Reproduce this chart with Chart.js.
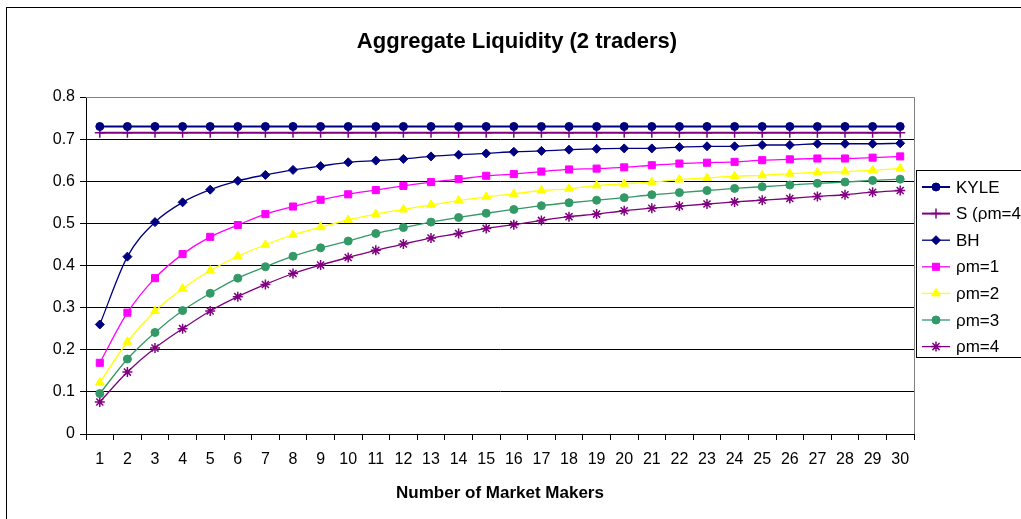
<!DOCTYPE html>
<html>
<head>
<meta charset="utf-8">
<title>Aggregate Liquidity (2 traders)</title>
<script src="https://cdn.jsdelivr.net/npm/chart.js@4.4.1/dist/chart.umd.min.js"></script>
<style>
  html, body { margin: 0; padding: 0; background: #fff; }
  #wrap { position: relative; width: 1021px; height: 519px; }
</style>
</head>
<body>
<div id="wrap"><canvas id="chart" width="1021" height="519"></canvas></div>
<script>
// Number of market makers (x categories)
const marketMakers = ['1','2','3','4','5','6','7','8','9','10','11','12','13','14','15',
                      '16','17','18','19','20','21','22','23','24','25','26','27','28','29','30'];

const chartTitle = 'Aggregate Liquidity (2 traders)';
const xAxisTitle = 'Number of Market Makers';
const yTicks = [0, 0.1, 0.2, 0.3, 0.4, 0.5, 0.6, 0.7, 0.8];

const seriesNames = ['KYLE', 'S (\u03c1m=4)', 'BH', '\u03c1m=1', '\u03c1m=2', '\u03c1m=3', '\u03c1m=4'];

const kyle = [0.730,0.730,0.730,0.730,0.730,0.730,0.730,0.730,0.730,0.730,
              0.730,0.730,0.730,0.730,0.730,0.730,0.730,0.730,0.730,0.730,
              0.730,0.730,0.730,0.730,0.730,0.730,0.730,0.730,0.730,0.730];
const sRho4 = [0.715,0.715,0.715,0.715,0.715,0.715,0.715,0.715,0.715,0.715,
               0.715,0.715,0.715,0.715,0.715,0.715,0.715,0.715,0.715,0.715,
               0.715,0.715,0.715,0.715,0.715,0.715,0.715,0.715,0.715,0.715];
const bh = [0.260,0.421,0.503,0.550,0.580,0.601,0.615,0.627,0.636,0.645,
            0.649,0.653,0.659,0.663,0.666,0.670,0.672,0.675,0.677,0.678,
            0.678,0.681,0.683,0.683,0.686,0.686,0.689,0.689,0.689,0.690];
const rho1 = [0.169,0.288,0.370,0.427,0.468,0.496,0.522,0.540,0.556,0.569,
              0.579,0.589,0.598,0.605,0.613,0.617,0.623,0.628,0.630,0.633,
              0.638,0.642,0.644,0.646,0.650,0.652,0.654,0.654,0.656,0.659];
const rho2 = [0.122,0.219,0.292,0.345,0.388,0.422,0.449,0.473,0.491,0.508,
              0.522,0.533,0.544,0.554,0.563,0.570,0.578,0.582,0.590,0.594,
              0.598,0.604,0.608,0.612,0.614,0.618,0.621,0.623,0.626,0.630];
const rho3 = [0.096,0.178,0.241,0.293,0.334,0.370,0.397,0.422,0.442,0.458,
              0.476,0.490,0.503,0.514,0.524,0.533,0.542,0.549,0.555,0.561,
              0.568,0.573,0.578,0.583,0.587,0.591,0.595,0.598,0.602,0.605];
const rho4 = [0.076,0.147,0.204,0.250,0.292,0.326,0.355,0.381,0.401,0.419,
              0.436,0.451,0.465,0.476,0.488,0.497,0.507,0.516,0.522,0.530,
              0.536,0.541,0.546,0.551,0.555,0.559,0.564,0.568,0.574,0.578];

const FONT = '"Liberation Sans", Arial, Helvetica, sans-serif';

function series(label, data, color, pointStyle, radius, width, tension) {
  return {
    label, data,
    borderColor: color,
    backgroundColor: color,
    pointBackgroundColor: color,
    pointBorderColor: color,
    pointStyle,
    pointRadius: radius,
    pointHoverRadius: radius,
    pointBorderWidth: pointStyle === 'cross' || pointStyle === 'star' ? 1.5 : 1,
    borderWidth: width,
    tension: tension,
    cubicInterpolationMode: 'monotone',
    fill: false
  };
}

const datasets = [
  series(seriesNames[0], kyle,  '#000080', 'circle',   4,   2,   0),
  series(seriesNames[1], sRho4, '#800080', 'cross',    5,   2,   0),
  series(seriesNames[2], bh,    '#000080', 'rectRot',  4.5, 1.3, 0.4),
  series(seriesNames[3], rho1,  '#FF00FF', 'rect',     5,   1.3, 0.4),
  series(seriesNames[4], rho2,  '#FFFF00', 'triangle', 5,   1.3, 0.4),
  series(seriesNames[5], rho3,  '#339966', 'circle',   4,   1.3, 0.4),
  series(seriesNames[6], rho4,  '#800080', 'star',     5,   1.3, 0.4)
];

// Frame, title, plot border and boxed legend
const decorations = {
  id: 'decorations',
  beforeDraw(chart) {
    const ctx = chart.ctx;
    ctx.save();
    ctx.fillStyle = '#fff';
    ctx.fillRect(0, 0, chart.width, chart.height);
    ctx.restore();
  },
  afterDraw(chart) {
    const ctx = chart.ctx;
    const area = chart.chartArea;
    ctx.save();

    // outer frame of the chart object
    ctx.strokeStyle = '#000';
    ctx.lineWidth = 1;
    ctx.strokeRect(6.5, 7.5, chart.width + 20, chart.height + 20);

    // plot area border (top and right)
    ctx.strokeStyle = '#808080';
    ctx.beginPath();
    ctx.moveTo(area.left, area.top + 0.5);
    ctx.lineTo(area.right + 0.5, area.top + 0.5);
    ctx.lineTo(area.right + 0.5, area.bottom);
    ctx.stroke();

    // title
    ctx.fillStyle = '#000';
    ctx.font = 'bold 22px ' + FONT;
    ctx.textAlign = 'center';
    ctx.textBaseline = 'alphabetic';
    ctx.fillText(chartTitle, 517, 48);

    // legend
    const lx = 916, ly = 170, lh = 187;
    ctx.fillStyle = '#fff';
    ctx.fillRect(lx, ly, chart.width - lx + 10, lh);
    ctx.strokeStyle = '#000';
    ctx.lineWidth = 1;
    ctx.strokeRect(lx + 0.5, ly + 0.5, chart.width - lx + 10, lh);

    ctx.font = '17px ' + FONT;
    ctx.textAlign = 'left';
    ctx.textBaseline = 'middle';
    chart.data.datasets.forEach((ds, i) => {
      const y = 187 + i * 26.6;
      ctx.strokeStyle = ds.borderColor;
      ctx.lineWidth = Math.max(1.3, ds.borderWidth);
      ctx.beginPath();
      ctx.moveTo(922, y);
      ctx.lineTo(950, y);
      ctx.stroke();
      if (Chart.helpers && Chart.helpers.drawPoint) {
        ctx.fillStyle = ds.pointBackgroundColor;
        ctx.strokeStyle = ds.pointBorderColor;
        ctx.lineWidth = ds.pointBorderWidth;
        Chart.helpers.drawPoint(ctx, {
          pointStyle: ds.pointStyle,
          radius: ds.pointRadius,
          rotation: 0,
          borderWidth: ds.pointBorderWidth
        }, 936, y);
      }
      ctx.fillStyle = '#000';
      ctx.fillText(ds.label, 956, y + 1);
    });

    ctx.restore();
  }
};

new Chart(document.getElementById('chart'), {
  type: 'line',
  data: { labels: marketMakers, datasets },
  options: {
    responsive: false,
    devicePixelRatio: 1,
    animation: false,
    events: [],
    layout: { padding: { left: 0, top: 97, right: 107, bottom: 0 } },
    plugins: {
      legend: { display: false },
      title: { display: false },
      tooltip: { enabled: false }
    },
    scales: {
      x: {
        type: 'category',
        offset: true,
        afterFit(scale) { scale.height = 85; },
        grid: {
          offset: true,
          drawOnChartArea: false,
          drawTicks: true,
          tickLength: 6,
          tickColor: '#000',
          lineWidth: 1
        },
        border: { display: true, color: '#000', width: 1 },
        ticks: {
          color: '#000',
          font: { family: FONT, size: 16 },
          padding: 10,
          autoSkip: false,
          maxRotation: 0
        },
        title: {
          display: true,
          text: xAxisTitle,
          color: '#000',
          font: { family: FONT, size: 17, weight: 'bold' },
          padding: { top: 0, bottom: 15 }
        }
      },
      y: {
        min: 0,
        max: 0.8,
        afterFit(scale) { scale.width = 86; },
        afterBuildTicks(scale) { scale.ticks = yTicks.map(v => ({ value: v })); },
        grid: {
          color: ctx => (ctx.tick && Math.abs(ctx.tick.value - 0.8) < 1e-9) ? '#808080' : '#000',
          tickColor: '#000',
          tickLength: 6,
          lineWidth: 1
        },
        border: { display: true, color: '#000', width: 1 },
        ticks: {
          color: '#000',
          font: { family: FONT, size: 16 },
          padding: 5,
          callback: v => (v === 0 ? '0' : Number(v).toFixed(1))
        }
      }
    }
  },
  plugins: [decorations]
});
</script>
</body>
</html>
